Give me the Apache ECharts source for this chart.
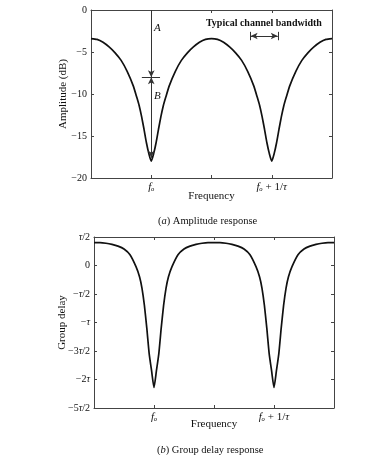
<!DOCTYPE html>
<html>
<head>
<meta charset="utf-8">
<script src="https://cdn.jsdelivr.net/npm/echarts@6/dist/echarts.min.js"></script>
<style>
  html, body { margin: 0; padding: 0; background: #fff; }
  #main { width: 367px; height: 455px; }
</style>
</head>
<body>
<div id="main"></div>
<script>
// frequency in units of 1/tau, f0 at 0
const freq = [-0.5, -0.45, -0.4, -0.35, -0.3, -0.25, -0.2, -0.15, -0.12, -0.1, -0.08, -0.06, -0.04, -0.02, 0,
  0.02, 0.04, 0.06, 0.08, 0.1, 0.12, 0.15, 0.2, 0.25, 0.3, 0.35, 0.4, 0.45, 0.5,
  0.55, 0.6, 0.65, 0.7, 0.75, 0.8, 0.85, 0.88, 0.9, 0.92, 0.94, 0.96, 0.98, 1,
  1.02, 1.04, 1.06, 1.08, 1.1, 1.12, 1.15, 1.2, 1.25, 1.3, 1.35, 1.4, 1.45, 1.5];

// amplitude (dB)
const amplitude = [-3.4, -3.5, -3.85, -4.4, -5.1, -6.0, -7.3, -9.0, -10.4, -11.4, -12.7, -14.2, -15.8, -17.1, -18.0,
  -17.1, -15.8, -14.2, -12.7, -11.4, -10.4, -9.0, -7.3, -6.0, -5.1, -4.4, -3.85, -3.5, -3.4,
  -3.5, -3.85, -4.4, -5.1, -6.0, -7.3, -9.0, -10.4, -11.4, -12.7, -14.2, -15.8, -17.1, -18.0,
  -17.1, -15.8, -14.2, -12.7, -11.4, -10.4, -9.0, -7.3, -6.0, -5.1, -4.4, -3.85, -3.5, -3.4];

// group delay in units of tau
const groupDelay = [0.40, 0.40, 0.39, 0.37, 0.34, 0.29, 0.19, -0.02, -0.2, -0.4, -0.7, -1.1, -1.55, -1.85, -2.14,
  -1.85, -1.55, -1.1, -0.7, -0.4, -0.2, -0.02, 0.19, 0.29, 0.34, 0.37, 0.39, 0.40, 0.40,
  0.40, 0.39, 0.37, 0.34, 0.29, 0.19, -0.02, -0.2, -0.4, -0.7, -1.1, -1.55, -1.85, -2.14,
  -1.85, -1.55, -1.1, -0.7, -0.4, -0.2, -0.02, 0.19, 0.29, 0.34, 0.37, 0.39, 0.40, 0.40];

// tick labels
const freqTicks = [0, 1];
const freqLabels = ['{i|fₒ}', '{i|fₒ} + 1/{i|τ}'];
const delayTicks = [0.5, 0, -0.5, -1, -1.5, -2, -2.5];
const delayLabels = ['{i|τ}/2', '0', '−{i|τ}/2', '−{i|τ}', '−3{i|τ}/2', '−2{i|τ}', '−5{i|τ}/2'];

const FONT = 'Liberation Serif';
const ink = '#111';
const frameColor = '#444';
function italic(size) {
  return { i: { fontStyle: 'italic', fontFamily: FONT, fontSize: size, color: ink } };
}

function freqLabel(v) {
  let k = freqTicks.findIndex(t => Math.abs(t - v) < 1e-6);
  return k < 0 ? '' : freqLabels[k];
}
function delayLabel(v) {
  let k = delayTicks.findIndex(t => Math.abs(t - v) < 1e-6);
  return k < 0 ? '' : delayLabels[k];
}

// one frame axis (ticks inside, optional labels)
function xAx(grid, pos, withLabel, gap) {
  return {
    gridIndex: grid, type: 'value', position: pos, min: -0.5, max: 1.5, interval: 0.5,
    axisLine: { show: true, onZero: false, lineStyle: { color: frameColor, width: 1 } },
    axisTick: { show: true, inside: true, length: 3, lineStyle: { color: frameColor } },
    splitLine: { show: false },
    axisLabel: { show: withLabel, formatter: freqLabel, margin: 4, fontFamily: FONT, fontSize: 11, color: ink, rich: italic(11) },
    name: withLabel ? 'Frequency' : '', nameLocation: 'middle', nameGap: gap, nameMoveOverlap: false,
    nameTextStyle: { fontFamily: FONT, fontSize: 11, color: ink }
  };
}
function yAx(grid, pos, withLabel, range, fmt, name, gap) {
  return {
    gridIndex: grid, type: 'value', position: pos, min: range[0], max: range[1], interval: range[2],
    axisLine: { show: true, onZero: false, lineStyle: { color: frameColor, width: 1 } },
    axisTick: { show: true, inside: true, length: 3, lineStyle: { color: frameColor } },
    splitLine: { show: false },
    axisLabel: { show: withLabel, formatter: fmt, margin: 4, fontFamily: FONT, fontSize: 10, color: ink, rich: italic(10) },
    name: withLabel ? name : '', nameLocation: 'middle', nameGap: gap, nameMoveOverlap: false,
    nameTextStyle: { fontFamily: FONT, fontSize: 11, color: ink }
  };
}

let myChart = echarts.init(document.getElementById('main'));

let option = {
  animation: false,
  backgroundColor: '#fff',
  title: [
    { text: '({i|a}) Amplitude response', left: 153, top: 211,
      textStyle: { fontFamily: FONT, fontSize: 10.5, fontWeight: 'normal', color: ink, rich: italic(10.5) } },
    { text: '({i|b}) Group delay response', left: 152, top: 440,
      textStyle: { fontFamily: FONT, fontSize: 10.5, fontWeight: 'normal', color: ink, rich: italic(10.5) } }
  ],
  grid: [
    { left: 91, top: 10, width: 241, height: 168 },
    { left: 94, top: 237, width: 240, height: 171 }
  ],
  xAxis: [xAx(0, 'bottom', true, 13), xAx(0, 'top', false), xAx(1, 'bottom', true, 11), xAx(1, 'top', false)],
  yAxis: [
    yAx(0, 'left', true, [-20, 0, 5], v => String(v).replace('-', '−'), 'Amplitude (dB)', 22),
    yAx(0, 'right', false, [-20, 0, 5]),
    yAx(1, 'left', true, [-2.5, 0.5, 0.5], delayLabel, 'Group delay', 26),
    yAx(1, 'right', false, [-2.5, 0.5, 0.5])
  ],
  series: [
    {
      type: 'line', xAxisIndex: 0, yAxisIndex: 0,
      data: freq.map((f, i) => [f, amplitude[i]]),
      showSymbol: false, smooth: 0.2, silent: true,
      lineStyle: { color: '#111', width: 1.7 },
      //A,B 箭头 和 信道带宽标记
      markLine: {
        silent: true, symbol: ['none', 'none'], symbolSize: [5, 7],
        label: { show: false },
        lineStyle: { color: '#333', width: 1, type: 'solid' },
        data: [
          [{ coord: [0, 0] }, { coord: [0, -8], symbol: 'arrow' }],
          [{ coord: [0, -8], symbol: 'arrow' }, { coord: [0, -17.6], symbol: 'arrow' }],
          [{ coord: [-0.078, -8] }, { coord: [0.073, -8] }],
          [{ coord: [0.825, -3.1], symbol: 'arrow' }, { coord: [1.05, -3.1], symbol: 'arrow' }],
          [{ coord: [0.825, -2.6] }, { coord: [0.825, -3.6] }],
          [{ coord: [1.05, -2.6] }, { coord: [1.05, -3.6] }]
        ]
      },
      markPoint: {
        silent: true, symbol: 'circle', symbolSize: 1,
        itemStyle: { color: 'rgba(0,0,0,0)' },
        label: { show: true, position: 'inside', fontFamily: FONT, fontSize: 11, fontStyle: 'italic', color: ink },
        data: [
          { coord: [0.05, -2.1], label: { formatter: 'A' } },
          { coord: [0.05, -10.2], label: { formatter: 'B' } },
          { coord: [0.935, -1.65], label: { formatter: 'Typical channel bandwidth', fontStyle: 'normal', fontWeight: 'bold', fontSize: 10 } }
        ]
      }
    },
    {
      type: 'line', xAxisIndex: 2, yAxisIndex: 2,
      data: freq.map((f, i) => [f, groupDelay[i]]),
      showSymbol: false, smooth: 0.2, silent: true,
      lineStyle: { color: '#111', width: 1.7 }
    }
  ]
};

myChart.setOption(option);
</script>
</body>
</html>
